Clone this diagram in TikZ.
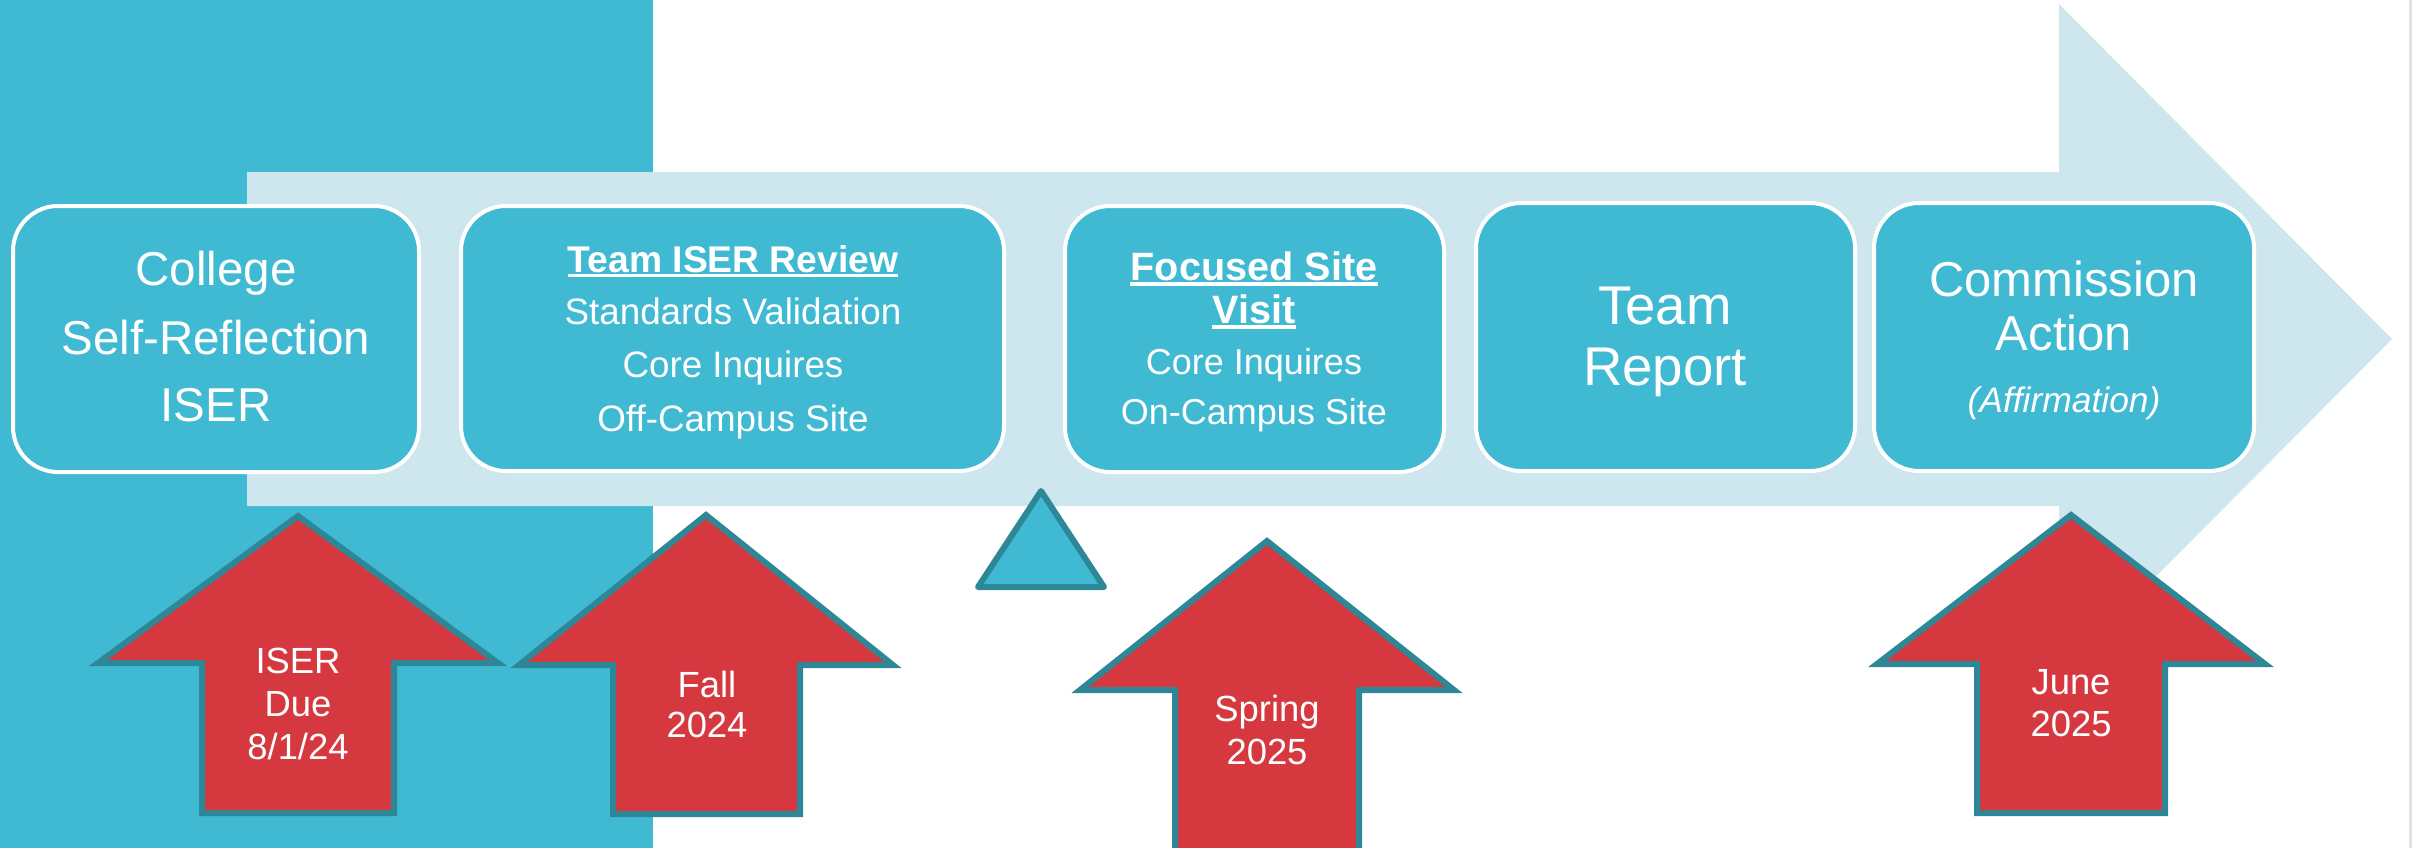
\documentclass[tikz,border=0pt]{standalone}
\usepackage{fontspec}
\setmainfont{Liberation Sans}
\definecolor{tealc}{RGB}{64,185,210}
\definecolor{lightc}{RGB}{206,230,238}
\definecolor{redc}{RGB}{213,56,62}
\definecolor{darkc}{RGB}{46,135,150}
\definecolor{edgec}{RGB}{226,226,226}
\tikzset{
  box/.style={draw=white, line width=2pt, fill=tealc, rounded corners=22.5pt, inner sep=0pt},
  redarrow/.style={draw=darkc, fill=redc, line width=3pt, miter limit=10},
  tri/.style={draw=darkc, fill=tealc, line width=3pt, line join=round},
  txt/.style={text=white, inner sep=0pt, anchor=base},
  big/.style={txt, font=\fontsize{23.75pt}{28pt}\selectfont},
  mid/.style={txt, font=\fontsize{18.4pt}{22pt}\selectfont},
  ul/.style={white, line width=1.8pt},
}
\begin{document}
\begin{tikzpicture}[x=0.5pt,y=-0.5pt]
\useasboundingbox (0,0) rectangle (2412,847);
% background pieces
\fill[tealc] (-10,-10) rectangle (653,870);
\fill[edgec] (2409,-10) rectangle (2420,870);
\fill[lightc] (247,172) -- (2059,172) -- (2059,4) -- (2392,339) -- (2059,674) -- (2059,506) -- (247,506) -- cycle;
% boxes
\node[box, minimum width=203pt, minimum height=133pt] (b1) at (216,339) {};
\node[box, minimum width=271.5pt, minimum height=132.5pt] (b2) at (732.5,338.5) {};
\node[box, minimum width=189.5pt, minimum height=133pt] (b3) at (1254.5,339) {};
\node[box, minimum width=189.5pt, minimum height=134pt] (b4) at (1665.5,337) {};
\node[box, minimum width=190pt, minimum height=134pt] (b5) at (2064,337) {};
% box 1 text
\node[big] (b1a) at (216,285) {College};
\node[big] (b1b) at (216,354) {Self-Reflection};
\node[big] (b1c) at (216,421) {ISER};
% box 2 text
\node[mid, font=\fontsize{18.6pt}{22pt}\selectfont\bfseries] (b2a) at (733,272) {Team ISER Review};
\draw[ul] ([yshift=-1.8pt]b2a.base west) -- ([yshift=-1.8pt]b2a.base east);
\node[mid] (b2b) at (733,324) {Standards Validation};
\node[mid] (b2c) at (733,377) {Core Inquires};
\node[mid] (b2d) at (733,431) {Off-Campus Site};
% box 3 text
\node[mid, font=\fontsize{19.8pt}{22pt}\selectfont\bfseries] (b3a) at (1254,280) {Focused Site};
\draw[ul] ([yshift=-2pt]b3a.base west) -- ([yshift=-2pt]b3a.base east);
\node[mid, font=\fontsize{19.8pt}{22pt}\selectfont\bfseries] (b3b) at (1254,323) {Visit};
\draw[ul] ([yshift=-2pt]b3b.base west) -- ([yshift=-2pt]b3b.base east);
\node[mid, font=\fontsize{18pt}{22pt}\selectfont] (b3c) at (1254,374) {Core Inquires};
\node[mid, font=\fontsize{18pt}{22pt}\selectfont] (b3d) at (1254,424) {On-Campus Site};
% box 4 text
\node[txt, font=\fontsize{27.3pt}{32pt}\selectfont] (b4a) at (1665,324) {Team};
\node[txt, font=\fontsize{27.3pt}{32pt}\selectfont] (b4b) at (1665,385) {Report};
% box 5 text
\node[txt, font=\fontsize{24.5pt}{29pt}\selectfont] (b5a) at (2064,296) {Commission};
\node[txt, font=\fontsize{24.5pt}{29pt}\selectfont] (b5b) at (2064,350) {Action};
\node[txt, font=\fontsize{17.7pt}{21pt}\selectfont\itshape] (b5c) at (2064,412) {(Affirmation)};
% small triangle
\draw[tri] (1041,491) -- (1104,587) -- (978,587) -- cycle;
% red arrows
\draw[redarrow] (298,516) -- (498,663) -- (394,663) -- (394,813) -- (202,813) -- (202,663) -- (98,663) -- cycle;
\draw[redarrow] (706,515) -- (893,665) -- (800,665) -- (800,814) -- (613,814) -- (613,665) -- (519,665) -- cycle;
\draw[redarrow] (1267,541) -- (1454,690) -- (1359,690) -- (1359,900) -- (1175,900) -- (1175,690) -- (1080,690) -- cycle;
\draw[redarrow] (2071,515) -- (2265,664) -- (2165,664) -- (2165,813) -- (1977,813) -- (1977,664) -- (1877,664) -- cycle;
% arrow labels
\node[mid, font=\fontsize{18.2pt}{22pt}\selectfont] (r1a) at (298,673) {ISER};
\node[mid, font=\fontsize{18.2pt}{22pt}\selectfont] (r1b) at (298,716) {Due};
\node[mid, font=\fontsize{18.2pt}{22pt}\selectfont] (r1c) at (298,759) {8/1/24};
\node[mid, font=\fontsize{18.2pt}{22pt}\selectfont] (r2a) at (707,697) {Fall};
\node[mid, font=\fontsize{18.2pt}{22pt}\selectfont] (r2b) at (707,737) {2024};
\node[mid, font=\fontsize{18.2pt}{22pt}\selectfont] (r3a) at (1267,721) {Spring};
\node[mid, font=\fontsize{18.2pt}{22pt}\selectfont] (r3b) at (1267,764) {2025};
\node[mid, font=\fontsize{18.2pt}{22pt}\selectfont] (r4a) at (2071,694) {June};
\node[mid, font=\fontsize{18.2pt}{22pt}\selectfont] (r4b) at (2071,736) {2025};
\end{tikzpicture}
\end{document}
